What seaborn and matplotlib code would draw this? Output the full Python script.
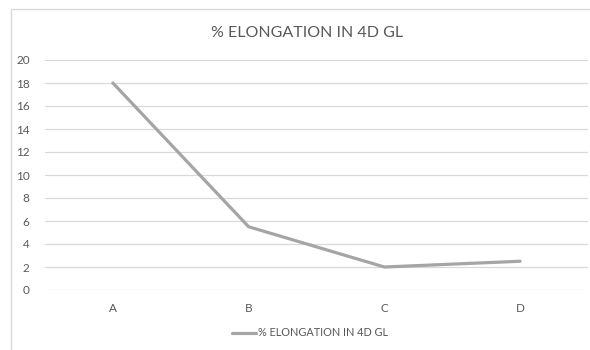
import matplotlib
matplotlib.use("Agg")
import matplotlib.pyplot as plt
import seaborn as sns
import pandas as pd
from matplotlib.patches import Rectangle

samples = ["A", "B", "C", "D"]
elongation = [18, 5.5, 2, 2.5]
series_name = "% ELONGATION IN 4D GL"
y_ticks = list(range(0, 21, 2))

sns.set_theme(style="white")
plt.rcParams["font.family"] = ["Lato", "DejaVu Sans"]

text_color = "#595959"
grid_color = "#D9D9D9"
line_color = "#A5A5A5"

df = pd.DataFrame({"sample": samples, "value": elongation})

fig = plt.figure(figsize=(5.9, 3.5), dpi=100)
fig.patch.set_facecolor("white")

# chart area frame
fig.patches.append(Rectangle((11 / 590, -0.1), 1.2, 1 - 9 / 350 + 0.1,
                             transform=fig.transFigure, fill=False,
                             edgecolor=grid_color, linewidth=1.0))

ax = fig.add_axes([45 / 590, 1 - 290 / 350, 543 / 590, 230 / 350])
sns.lineplot(data=df, x="sample", y="value", ax=ax, color=line_color,
             linewidth=2.3, sort=False, label=series_name, legend=False)

ax.set_xlim(-0.5, len(samples) - 0.5)
ax.set_ylim(0, 20)
ax.set_yticks(y_ticks)
ax.yaxis.grid(True, color=grid_color, linewidth=0.9)
ax.set_axisbelow(True)
for s in ax.spines.values():
    s.set_visible(False)
ax.tick_params(axis="both", length=0, colors=text_color, labelsize=8.5)
ax.tick_params(axis="y", pad=11)
ax.tick_params(axis="x", pad=9)
ax.set_xlabel("")
ax.set_ylabel("")

fig.text(307 / 590, 1 - 33 / 350, series_name, ha="center", va="center",
         fontsize=11.5, color=text_color)

handles, labels = ax.get_legend_handles_labels()
leg = fig.legend(handles, labels, loc="center", bbox_to_anchor=(310 / 590, 1 - 333 / 350),
                 frameon=False, fontsize=7.8, handlelength=2.2, handletextpad=0.2,
                 labelcolor=text_color)

fig.savefig("out.png", dpi=100, facecolor="white")
